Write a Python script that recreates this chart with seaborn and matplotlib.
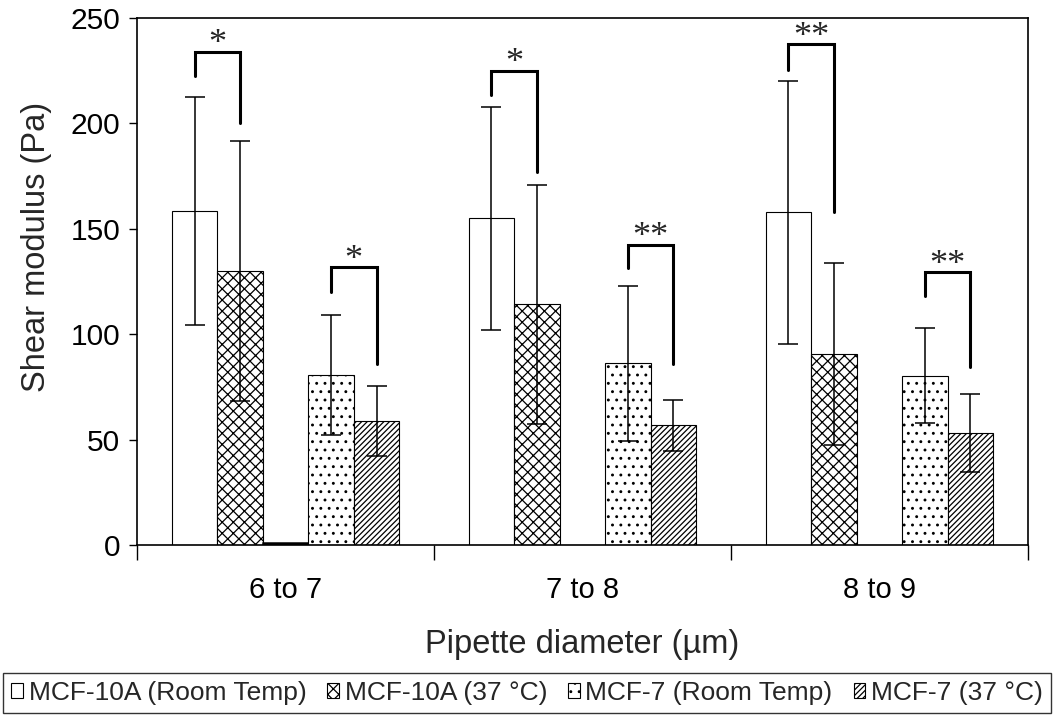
import matplotlib
matplotlib.use("Agg")
import matplotlib.pyplot as plt
import seaborn as sns
import pandas as pd
from matplotlib.ticker import FixedLocator

# ---------------- data ----------------
diameters = ["6 to 7", "7 to 8", "8 to 9"]
series = ["MCF-10A (Room Temp)", "MCF-10A (37 °C)", "blank", "MCF-7 (Room Temp)", "MCF-7 (37 °C)"]
mcf10a_rt = [158.5, 155.0, 157.8]
mcf10a_37 = [130.0, 114.1, 90.7]
blank = [0.8, 0.0, 0.0]
mcf7_rt = [80.5, 86.2, 80.4]
mcf7_37 = [58.8, 56.7, 53.1]
sd_mcf10a_rt = [54.0, 53.0, 62.5]
sd_mcf10a_37 = [61.7, 56.5, 43.2]
sd_mcf7_rt = [28.5, 36.8, 22.6]
sd_mcf7_37 = [16.5, 12.1, 18.7]

# significance brackets
br_group = [0, 0, 1, 1, 2, 2]
br_left = [0, 3, 0, 3, 0, 3]
br_right = [1, 4, 1, 4, 1, 4]
br_top = [234.0, 131.7, 225.1, 142.5, 237.6, 129.5]
br_lend = [222.7, 120.2, 213.6, 131.5, 225.5, 118.3]
br_rend = [200.0, 85.9, 176.9, 85.8, 157.8, 84.5]
br_label = ["*", "*", "*", "**", "**", "**"]

values = [mcf10a_rt, mcf10a_37, blank, mcf7_rt, mcf7_37]
sds = [sd_mcf10a_rt, sd_mcf10a_37, None, sd_mcf7_rt, sd_mcf7_37]
hatches = ["", "xxx", "", "..", "//////"]

rows = []
for s, vals in zip(series, values):
    for d, v in zip(diameters, vals):
        rows.append({"diameter": d, "series": s, "modulus": v})
df = pd.DataFrame(rows)

# ---------------- style ----------------
sns.set_style("ticks")
plt.rcParams["font.family"] = ["Liberation Sans", "DejaVu Sans"]
plt.rcParams["hatch.linewidth"] = 0.9

fig = plt.figure(figsize=(10.54, 7.15), dpi=100)
ax = fig.add_axes([0.130, 0.2378, 0.8453, 0.737])

sns.barplot(data=df, x="diameter", y="modulus", hue="series", hue_order=series,
            order=diameters, palette=["white"] * 5, edgecolor="black",
            linewidth=0.8, width=0.766, gap=0, errorbar=None, legend=False,
            saturation=1, ax=ax)

bars = list(ax.containers)
for cont, h in zip(bars, hatches):
    for p in cont.patches:
        p.set_hatch(h)
        p.set_facecolor("white")
        p.set_edgecolor("black")
bars[2].patches[0].set_linewidth(1.8)

# error bars
for i, cont in enumerate(bars):
    if sds[i] is None:
        continue
    xs = [p.get_x() + p.get_width() / 2 for p in cont.patches]
    ys = [p.get_height() for p in cont.patches]
    ax.errorbar(xs, ys, yerr=sds[i], fmt="none", ecolor="black", elinewidth=1.1,
                capsize=7, capthick=1.1, zorder=5)

# brackets
for g, l, r, top, le, re, lab in zip(br_group, br_left, br_right, br_top, br_lend, br_rend, br_label):
    pl = bars[l].patches[g]
    pr = bars[r].patches[g]
    xl = pl.get_x() + pl.get_width() / 2
    xr = pr.get_x() + pr.get_width() / 2
    ax.plot([xl, xl, xr, xr], [le, top, top, re], color="black", lw=2.2,
            solid_joinstyle="miter", zorder=6)
    ax.text((xl + xr) / 2, top - 0.8, lab, ha="center", va="baseline",
            fontsize=26, family=["Liberation Serif", "DejaVu Serif"])

# axes
ax.set_ylim(0, 250)
ax.set_xlim(-0.5, 2.5)
ax.set_yticks([0, 50, 100, 150, 200, 250])
for sp in ax.spines.values():
    sp.set_visible(True)
    sp.set_color("black")
    sp.set_linewidth(1.2)
ax.tick_params(axis="y", direction="out", length=6, width=1, labelsize=21.5, pad=6, colors="black")
ax.tick_params(axis="x", which="major", length=0, labelsize=21, pad=22, colors="black")
ax.xaxis.set_minor_locator(FixedLocator([-0.5, 0.5, 1.5, 2.5]))
ax.tick_params(axis="x", which="minor", direction="out", length=11, width=1, colors="black")
ax.set_xlabel("Pipette diameter (µm)", fontsize=23.5, labelpad=18)
ax.set_ylabel("Shear modulus (Pa)", fontsize=23.5)
ax.yaxis.set_label_coords(-0.095, 0.565)

# legend
handles = [bars[i] for i in (0, 1, 3, 4)]
labels = [series[i] for i in (0, 1, 3, 4)]
leg = fig.legend(handles, labels, loc="lower center", bbox_to_anchor=(0.5, 0.003),
                 ncol=4, fontsize=19, frameon=True, fancybox=False,
                 handlelength=0.45, handleheight=0.45, handletextpad=0.2,
                 columnspacing=0.8, borderpad=0.3, borderaxespad=0)
leg.get_frame().set_edgecolor("black")
leg.get_frame().set_linewidth(1.0)

fig.savefig("out.png", dpi=100, facecolor="white")
